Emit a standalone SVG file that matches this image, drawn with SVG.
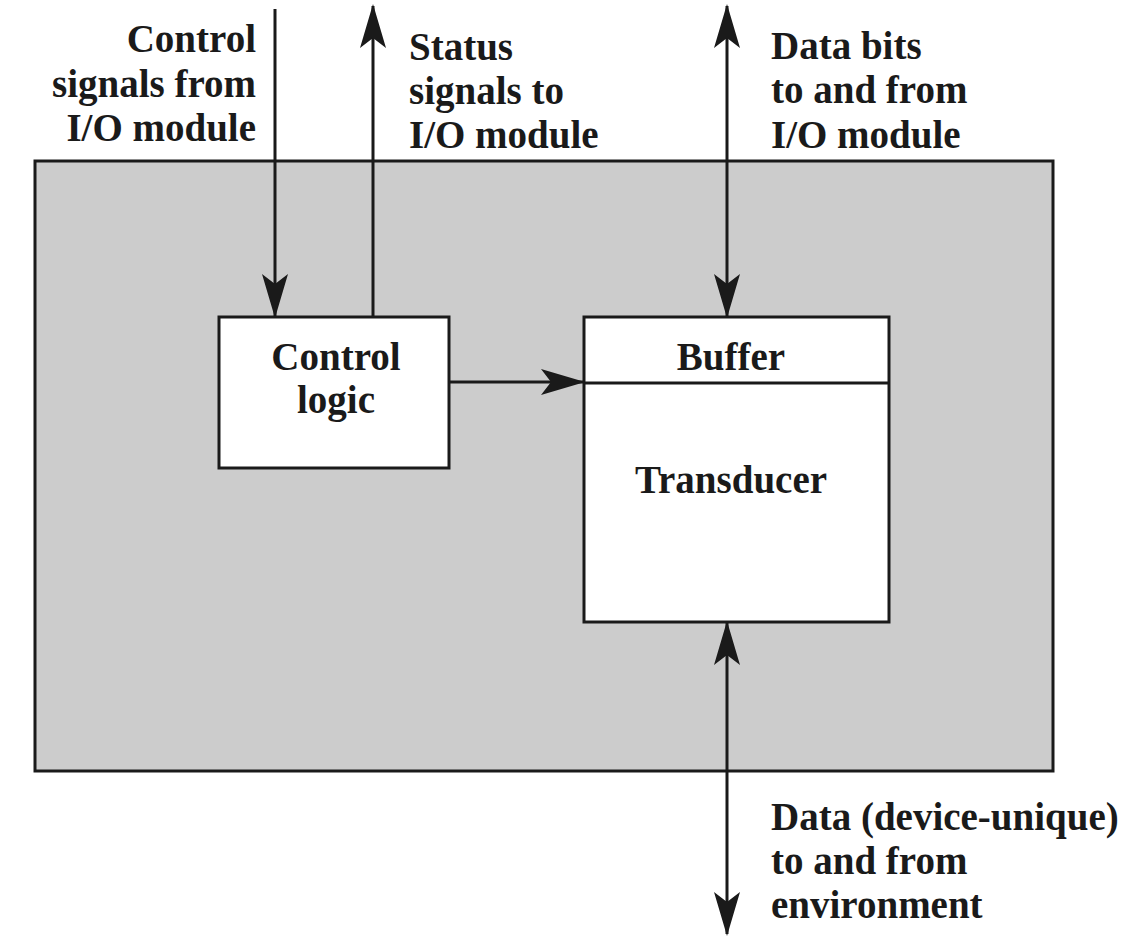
<svg xmlns="http://www.w3.org/2000/svg" width="1136" height="942" viewBox="0 0 1136 942">
<style>
.t{font-family:"Liberation Serif","Times New Roman",serif;font-weight:bold;font-size:39px;fill:#1a1a1a}
.box{fill:#ffffff;stroke:#1a1a1a;stroke-width:3}
.ln{fill:none;stroke:#1a1a1a;stroke-width:3}
</style>
<defs>
<marker id="ah" viewBox="0 0 44 26" refX="42" refY="13" markerWidth="44" markerHeight="26" markerUnits="userSpaceOnUse" orient="auto-start-reverse">
<path d="M0,0 L44,13 L0,26 L10,13 Z" fill="#1a1a1a"/>
</marker>
</defs>
<rect width="1136" height="942" fill="#ffffff"/>
<g id="device">
<rect x="35" y="161" width="1018" height="610" fill="#cccccc" stroke="#1a1a1a" stroke-width="3"/>
</g>
<g id="control-logic">
<rect class="box" x="219" y="317" width="230" height="151"/>
<text class="t" x="336" y="370" text-anchor="middle">Control</text>
<text class="t" x="336" y="413" text-anchor="middle">logic</text>
</g>
<g id="buffer-transducer">
<rect class="box" x="584" y="317" width="305" height="305"/>
<line class="ln" x1="584" y1="383" x2="889" y2="383"/>
<text class="t" x="731" y="370" text-anchor="middle">Buffer</text>
<text class="t" x="731" y="493" text-anchor="middle">Transducer</text>
</g>
<g id="connectors">
<line class="ln" x1="275" y1="9" x2="275" y2="316" marker-end="url(#ah)"/>
<line class="ln" x1="373" y1="317" x2="373" y2="6" marker-end="url(#ah)"/>
<line class="ln" x1="727" y1="6" x2="727" y2="316" marker-start="url(#ah)" marker-end="url(#ah)"/>
<line class="ln" x1="449" y1="382" x2="583" y2="382" marker-end="url(#ah)"/>
<line class="ln" x1="727" y1="623" x2="727" y2="934" marker-start="url(#ah)" marker-end="url(#ah)"/>
</g>
<g id="labels">
<text class="t" text-anchor="end"><tspan x="256" y="52">Control</tspan><tspan x="256" y="97">signals from</tspan><tspan x="256" y="141">I/O module</tspan></text>
<text class="t"><tspan x="409" y="60">Status</tspan><tspan x="409" y="104">signals to</tspan><tspan x="409" y="148">I/O module</tspan></text>
<text class="t"><tspan x="771" y="59">Data bits</tspan><tspan x="771" y="103">to and from</tspan><tspan x="771" y="148">I/O module</tspan></text>
<text class="t"><tspan x="771" y="830">Data (device-unique)</tspan><tspan x="771" y="874">to and from</tspan><tspan x="771" y="918">environment</tspan></text>
</g>
</svg>
